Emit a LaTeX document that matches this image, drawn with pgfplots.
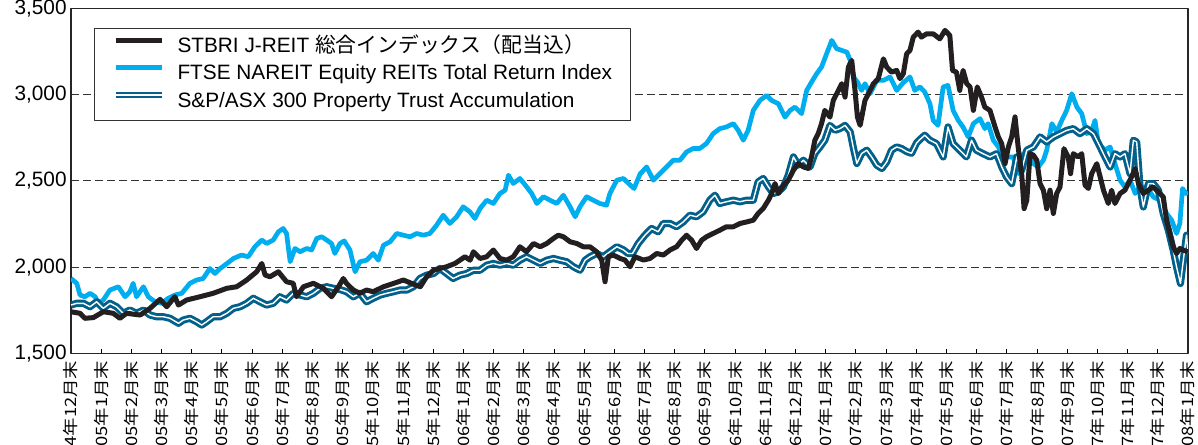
\documentclass[border=0pt]{standalone}
\usepackage{pgfplots}
\pgfplotsset{compat=1.18}
\usepackage{fontspec}
\setmainfont{Liberation Sans}
\newfontfamily\jp{Noto Sans CJK JP}
\definecolor{cBlack}{HTML}{231F20}
\definecolor{cCyan}{HTML}{00AEEF}
\definecolor{cTeal}{HTML}{03608A}
\newcommand\ym[2]{#1年#2月末}
\begin{document}
\begin{tikzpicture}
\begin{axis}[
  scale only axis, width=558.5pt, height=172.4pt,
  at={(0,0)}, anchor=south west,
  xmin=0, xmax=37, ymin=1500, ymax=3500,
  xtick={0,...,37},
  xticklabels={\ym{04}{12},\ym{05}{1},\ym{05}{2},\ym{05}{3},\ym{05}{4},\ym{05}{5},\ym{05}{6},\ym{05}{7},\ym{05}{8},\ym{05}{9},\ym{05}{10},\ym{05}{11},\ym{05}{12},
    \ym{06}{1},\ym{06}{2},\ym{06}{3},\ym{06}{4},\ym{06}{5},\ym{06}{6},\ym{06}{7},\ym{06}{8},\ym{06}{9},\ym{06}{10},\ym{06}{11},\ym{06}{12},
    \ym{07}{1},\ym{07}{2},\ym{07}{3},\ym{07}{4},\ym{07}{5},\ym{07}{6},\ym{07}{7},\ym{07}{8},\ym{07}{9},\ym{07}{10},\ym{07}{11},\ym{07}{12},\ym{08}{1}},
  ytick={1500,2000,2500,3000,3500},
  ymajorgrids,
  grid style={black!80, line width=0.5pt, dash pattern=on 4pt off 2pt},
  axis line style={black!85, line width=0.6pt},
  tick align=inside, xtick pos=bottom, ytick pos=left,
  major tick length=2pt,
  xtick style={black, line width=0.5pt},
  ytick style={draw=none},
  scaled y ticks=false,
  /pgf/number format/1000 sep={,},
  /pgf/number format/assume math mode=true,
  yticklabel style={font=\fontsize{10.4}{12}\selectfont, inner sep=2pt},
  xticklabel shift=3.5pt,
  xticklabel style={rotate=90, yscale=0.85, anchor=east, font=\jp\fontsize{9.2}{11}\selectfont, inner sep=0pt},
  legend style={at={(0.0206,0.944)}, anchor=north west, draw=black!80, line width=0.5pt,
    font=\fontsize{10.4}{12}\selectfont, inner xsep=9pt, inner ysep=4pt, row sep=3.2pt,
    nodes={inner sep=0pt, text height=8pt, text depth=2.5pt},
    /tikz/every odd column/.style={column sep=6.5pt}},
  legend cell align=left,
  legend image code/.code={\draw[#1] (0pt,3.2pt) -- (23pt,3.2pt);},
  line join=round,
]
\addlegendimage{cBlack, line width=2.4pt}
\addlegendentry{STBRI J-REIT {\jp 総合インデックス（配当込）}}
\addlegendimage{cCyan, line width=2.4pt}
\addlegendentry{FTSE NAREIT Equity REITs Total Return Index\hspace{3.5pt}}
\addlegendimage{cTeal, line width=1pt, double=white, double distance=1pt}
\addlegendentry{S\&P/ASX 300 Property Trust Accumulation}

% FTSE NAREIT (cyan)
\addplot[forget plot, cCyan, line width=2.35pt] coordinates {
(0,1934)(0.19,1906)(0.30,1838)(0.46,1828)(0.63,1848)(0.80,1828)(0.91,1790)(1.07,1809)(1.29,1867)(1.57,1886)(1.79,1828)(1.95,1857)(2.06,1906)(2.17,1828)(2.40,1886)(2.56,1828)(2.78,1799)(3.00,1790)(3.22,1819)(3.44,1838)(3.67,1848)(3.94,1906)(4.16,1925)(4.38,1934)(4.60,1992)(4.77,1963)(4.94,1992)(5.10,2012)(5.38,2050)(5.65,2070)(5.87,2060)(6.09,2118)(6.32,2157)(6.48,2137)(6.70,2157)(6.87,2205)(7.03,2224)(7.14,2195)(7.26,2031)(7.42,2108)(7.59,2089)(7.81,2108)(7.97,2099)(8.14,2166)(8.30,2176)(8.47,2157)(8.63,2137)(8.74,2079)(8.91,2137)(9.05,2152)(9.24,2099)(9.41,1973)(9.57,2031)(9.79,2040)(10.01,2079)(10.18,2040)(10.35,2127)(10.57,2147)(10.79,2195)(11.01,2185)(11.23,2176)(11.45,2195)(11.67,2185)(11.89,2195)(12.11,2243)(12.33,2301)(12.55,2253)(12.77,2291)(12.99,2350)(13.21,2321)(13.38,2282)(13.55,2340)(13.77,2388)(13.99,2369)(14.21,2427)(14.38,2446)(14.49,2533)(14.65,2485)(14.87,2514)(15.09,2466)(15.26,2427)(15.43,2369)(15.65,2408)(15.87,2388)(16.09,2369)(16.31,2417)(16.53,2350)(16.70,2292)(16.86,2350)(17.08,2408)(17.30,2388)(17.52,2369)(17.74,2359)(17.85,2427)(18.08,2504)(18.30,2514)(18.50,2480)(18.65,2456)(18.85,2540)(19.07,2581)(19.29,2504)(19.51,2543)(19.73,2581)(19.95,2620)(20.17,2620)(20.39,2668)(20.61,2688)(20.83,2688)(21.05,2717)(21.27,2774)(21.49,2803)(21.71,2813)(21.94,2832)(22.10,2794)(22.27,2736)(22.43,2794)(22.60,2909)(22.82,2967)(23.04,2996)(23.21,2967)(23.43,2948)(23.65,2870)(23.82,2909)(23.98,2928)(24.20,2890)(24.37,3025)(24.53,3073)(24.70,3122)(24.86,3160)(25.03,3238)(25.20,3315)(25.36,3267)(25.53,3257)(25.70,3247)(25.81,3199)(25.92,3103)(26.05,3073)(26.19,3025)(26.30,3064)(26.47,3006)(26.69,3083)(26.91,3083)(27.13,3103)(27.35,3025)(27.57,3070)(27.79,3103)(27.95,3025)(28.12,3045)(28.28,3016)(28.45,2948)(28.56,2851)(28.72,2822)(28.89,3045)(29.05,3054)(29.22,2909)(29.39,2851)(29.55,2812)(29.72,2755)(29.89,2832)(30.11,2861)(30.27,2803)(30.38,2832)(30.55,2736)(30.72,2697)(30.88,2639)(31.05,2639)(31.21,2639)(31.38,2542)(31.55,2658)(31.71,2639)(31.88,2600)(32.04,2581)(32.21,2620)(32.32,2678)(32.49,2832)(32.65,2784)(32.82,2851)(32.98,2909)(33.15,3006)(33.32,2928)(33.48,2890)(33.65,2774)(33.81,2793)(33.92,2851)(34.03,2716)(34.25,2678)(34.42,2697)(34.58,2600)(34.75,2504)(34.91,2465)(35.08,2504)(35.25,2427)(35.41,2465)(35.63,2465)(35.85,2407)(36.07,2388)(36.29,2311)(36.46,2272)(36.62,2195)(36.73,2253)(36.82,2456)(36.93,2427)(37.0,2436)
};

% S&P/ASX 300 (teal double)
\addplot[forget plot, cTeal, line width=1.45pt, double=white, double distance=0.7pt] coordinates {
(0,1780)(0.19,1790)(0.41,1790)(0.63,1770)(0.85,1799)(1.07,1761)(1.29,1790)(1.51,1770)(1.73,1732)(1.95,1751)(2.17,1732)(2.40,1751)(2.62,1722)(2.84,1712)(3.06,1712)(3.28,1703)(3.56,1674)(3.72,1693)(3.94,1703)(4.16,1683)(4.33,1664)(4.49,1683)(4.71,1712)(4.94,1712)(5.16,1732)(5.38,1761)(5.60,1770)(5.82,1790)(6.04,1819)(6.26,1799)(6.48,1780)(6.70,1790)(6.92,1828)(7.14,1809)(7.36,1848)(7.59,1838)(7.81,1828)(8.03,1848)(8.25,1877)(8.47,1886)(8.69,1877)(8.91,1870)(9.13,1857)(9.35,1828)(9.57,1848)(9.79,1799)(10.01,1819)(10.24,1838)(10.46,1848)(10.68,1857)(10.90,1867)(11.12,1867)(11.34,1886)(11.56,1934)(11.78,1953)(12.01,1963)(12.22,1992)(12.44,1963)(12.66,1934)(12.88,1953)(13.11,1963)(13.33,1982)(13.55,1982)(13.77,2011)(13.99,2021)(14.21,2011)(14.43,2021)(14.65,2011)(14.87,2040)(15.09,2060)(15.32,2040)(15.54,2021)(15.76,2040)(15.98,2050)(16.20,2040)(16.42,2031)(16.64,2002)(16.86,1982)(17.03,2040)(17.19,2060)(17.41,2079)(17.63,2060)(17.85,2089)(18.08,2118)(18.30,2100)(18.45,2079)(18.60,2079)(18.79,2137)(19.01,2185)(19.23,2224)(19.45,2205)(19.62,2253)(19.84,2253)(20.06,2234)(20.28,2262)(20.50,2301)(20.72,2292)(20.94,2321)(21.16,2388)(21.33,2417)(21.49,2369)(21.71,2379)(21.94,2388)(22.16,2379)(22.38,2388)(22.60,2388)(22.76,2494)(22.93,2514)(23.10,2466)(23.26,2427)(23.43,2437)(23.60,2466)(23.76,2533)(23.93,2639)(24.09,2591)(24.26,2620)(24.48,2581)(24.64,2659)(24.81,2697)(24.97,2736)(25.14,2822)(25.31,2794)(25.47,2803)(25.64,2822)(25.81,2784)(25.92,2688)(26.03,2601)(26.19,2659)(26.36,2678)(26.52,2639)(26.69,2591)(26.86,2572)(27.02,2610)(27.18,2678)(27.35,2697)(27.51,2688)(27.68,2670)(27.84,2660)(28.01,2720)(28.12,2740)(28.28,2765)(28.45,2736)(28.67,2716)(28.89,2639)(29.05,2813)(29.22,2716)(29.44,2678)(29.66,2639)(29.83,2736)(29.99,2678)(30.21,2658)(30.44,2639)(30.66,2658)(30.83,2581)(30.99,2523)(31.16,2484)(31.33,2639)(31.49,2562)(31.66,2678)(31.88,2697)(32.10,2755)(32.32,2726)(32.54,2755)(32.76,2774)(32.98,2793)(33.20,2803)(33.42,2774)(33.65,2803)(33.87,2774)(34.09,2697)(34.25,2639)(34.42,2581)(34.58,2658)(34.75,2639)(34.91,2658)(35.08,2542)(35.19,2736)(35.30,2726)(35.41,2465)(35.52,2349)(35.69,2484)(35.85,2484)(36.02,2446)(36.18,2311)(36.35,2214)(36.51,2098)(36.62,2002)(36.75,1905)(36.86,2060)(36.95,2185)(37.0,2079)
};

% STBRI J-REIT (black)
\addplot[forget plot, cBlack, line width=2.5pt] coordinates {
(0,1741)(0.30,1732)(0.46,1703)(0.74,1707)(1.07,1741)(1.40,1732)(1.62,1703)(1.84,1732)(2.29,1722)(2.62,1761)(2.95,1813)(3.17,1770)(3.44,1828)(3.56,1780)(3.83,1809)(4.27,1828)(4.71,1848)(5.16,1877)(5.49,1886)(5.82,1925)(6.15,1973)(6.32,2021)(6.43,1954)(6.59,1944)(6.87,1973)(7.14,1915)(7.36,1906)(7.47,1828)(7.70,1886)(8.03,1906)(8.36,1877)(8.63,1828)(8.86,1886)(9.02,1934)(9.13,1905)(9.35,1867)(9.57,1848)(9.79,1867)(10.01,1857)(10.35,1886)(10.68,1905)(11.01,1925)(11.29,1905)(11.57,1886)(11.78,1944)(12.01,1982)(12.22,1992)(12.44,2002)(12.72,2021)(12.88,2040)(13.05,2060)(13.22,2040)(13.33,2089)(13.55,2050)(13.77,2060)(13.99,2099)(14.21,2050)(14.43,2040)(14.65,2060)(14.87,2118)(15.09,2089)(15.32,2137)(15.54,2118)(15.76,2137)(15.98,2166)(16.14,2185)(16.31,2176)(16.53,2147)(16.75,2137)(16.97,2118)(17.19,2118)(17.41,2089)(17.58,2040)(17.69,1915)(17.80,2060)(17.96,2070)(18.19,2050)(18.35,2041)(18.52,2002)(18.68,2060)(18.96,2041)(19.18,2050)(19.40,2079)(19.62,2070)(19.84,2099)(20.06,2118)(20.23,2156)(20.39,2185)(20.56,2156)(20.72,2108)(20.89,2156)(21.05,2176)(21.27,2195)(21.49,2214)(21.71,2234)(21.94,2234)(22.16,2253)(22.38,2262)(22.60,2272)(22.76,2311)(22.93,2340)(23.10,2388)(23.21,2427)(23.32,2485)(23.43,2427)(23.60,2475)(23.76,2504)(23.93,2562)(24.09,2601)(24.26,2581)(24.42,2572)(24.53,2639)(24.64,2736)(24.75,2774)(24.86,2832)(24.97,2909)(25.14,2870)(25.25,2967)(25.42,3025)(25.53,3064)(25.64,2986)(25.75,3160)(25.86,3199)(25.97,3025)(26.05,2870)(26.14,2822)(26.30,2967)(26.47,3025)(26.58,3064)(26.74,3093)(26.91,3208)(27.02,3160)(27.18,3131)(27.35,3141)(27.46,3093)(27.57,3122)(27.68,3237)(27.79,3257)(27.90,3334)(28.06,3363)(28.17,3334)(28.34,3353)(28.56,3353)(28.78,3324)(28.95,3373)(29.11,3344)(29.20,3141)(29.33,3131)(29.44,3025)(29.55,3141)(29.67,3064)(29.78,3045)(29.89,2909)(30.02,3045)(30.16,2986)(30.27,2928)(30.44,2909)(30.61,2812)(30.72,2755)(30.83,2716)(30.94,2600)(31.05,2697)(31.16,2755)(31.27,2871)(31.38,2687)(31.49,2542)(31.57,2339)(31.66,2388)(31.77,2658)(31.88,2649)(31.99,2620)(32.10,2484)(32.21,2446)(32.32,2339)(32.43,2446)(32.54,2311)(32.65,2427)(32.76,2465)(32.89,2687)(33.03,2639)(33.11,2542)(33.20,2658)(33.36,2639)(33.48,2658)(33.59,2475)(33.70,2456)(33.81,2542)(33.98,2600)(34.09,2523)(34.20,2446)(34.36,2369)(34.47,2446)(34.58,2369)(34.75,2427)(34.91,2446)(35.08,2504)(35.25,2571)(35.36,2484)(35.52,2427)(35.69,2446)(35.85,2465)(36.02,2436)(36.18,2407)(36.29,2272)(36.40,2195)(36.51,2118)(36.62,2079)(36.73,2108)(36.85,2098)(37.0,2089)
};
\end{axis}
\pgfresetboundingbox
\path[use as bounding box] (-35.5pt,-45.35pt) rectangle (563.5pt,176.65pt);
\end{tikzpicture}
\end{document}
